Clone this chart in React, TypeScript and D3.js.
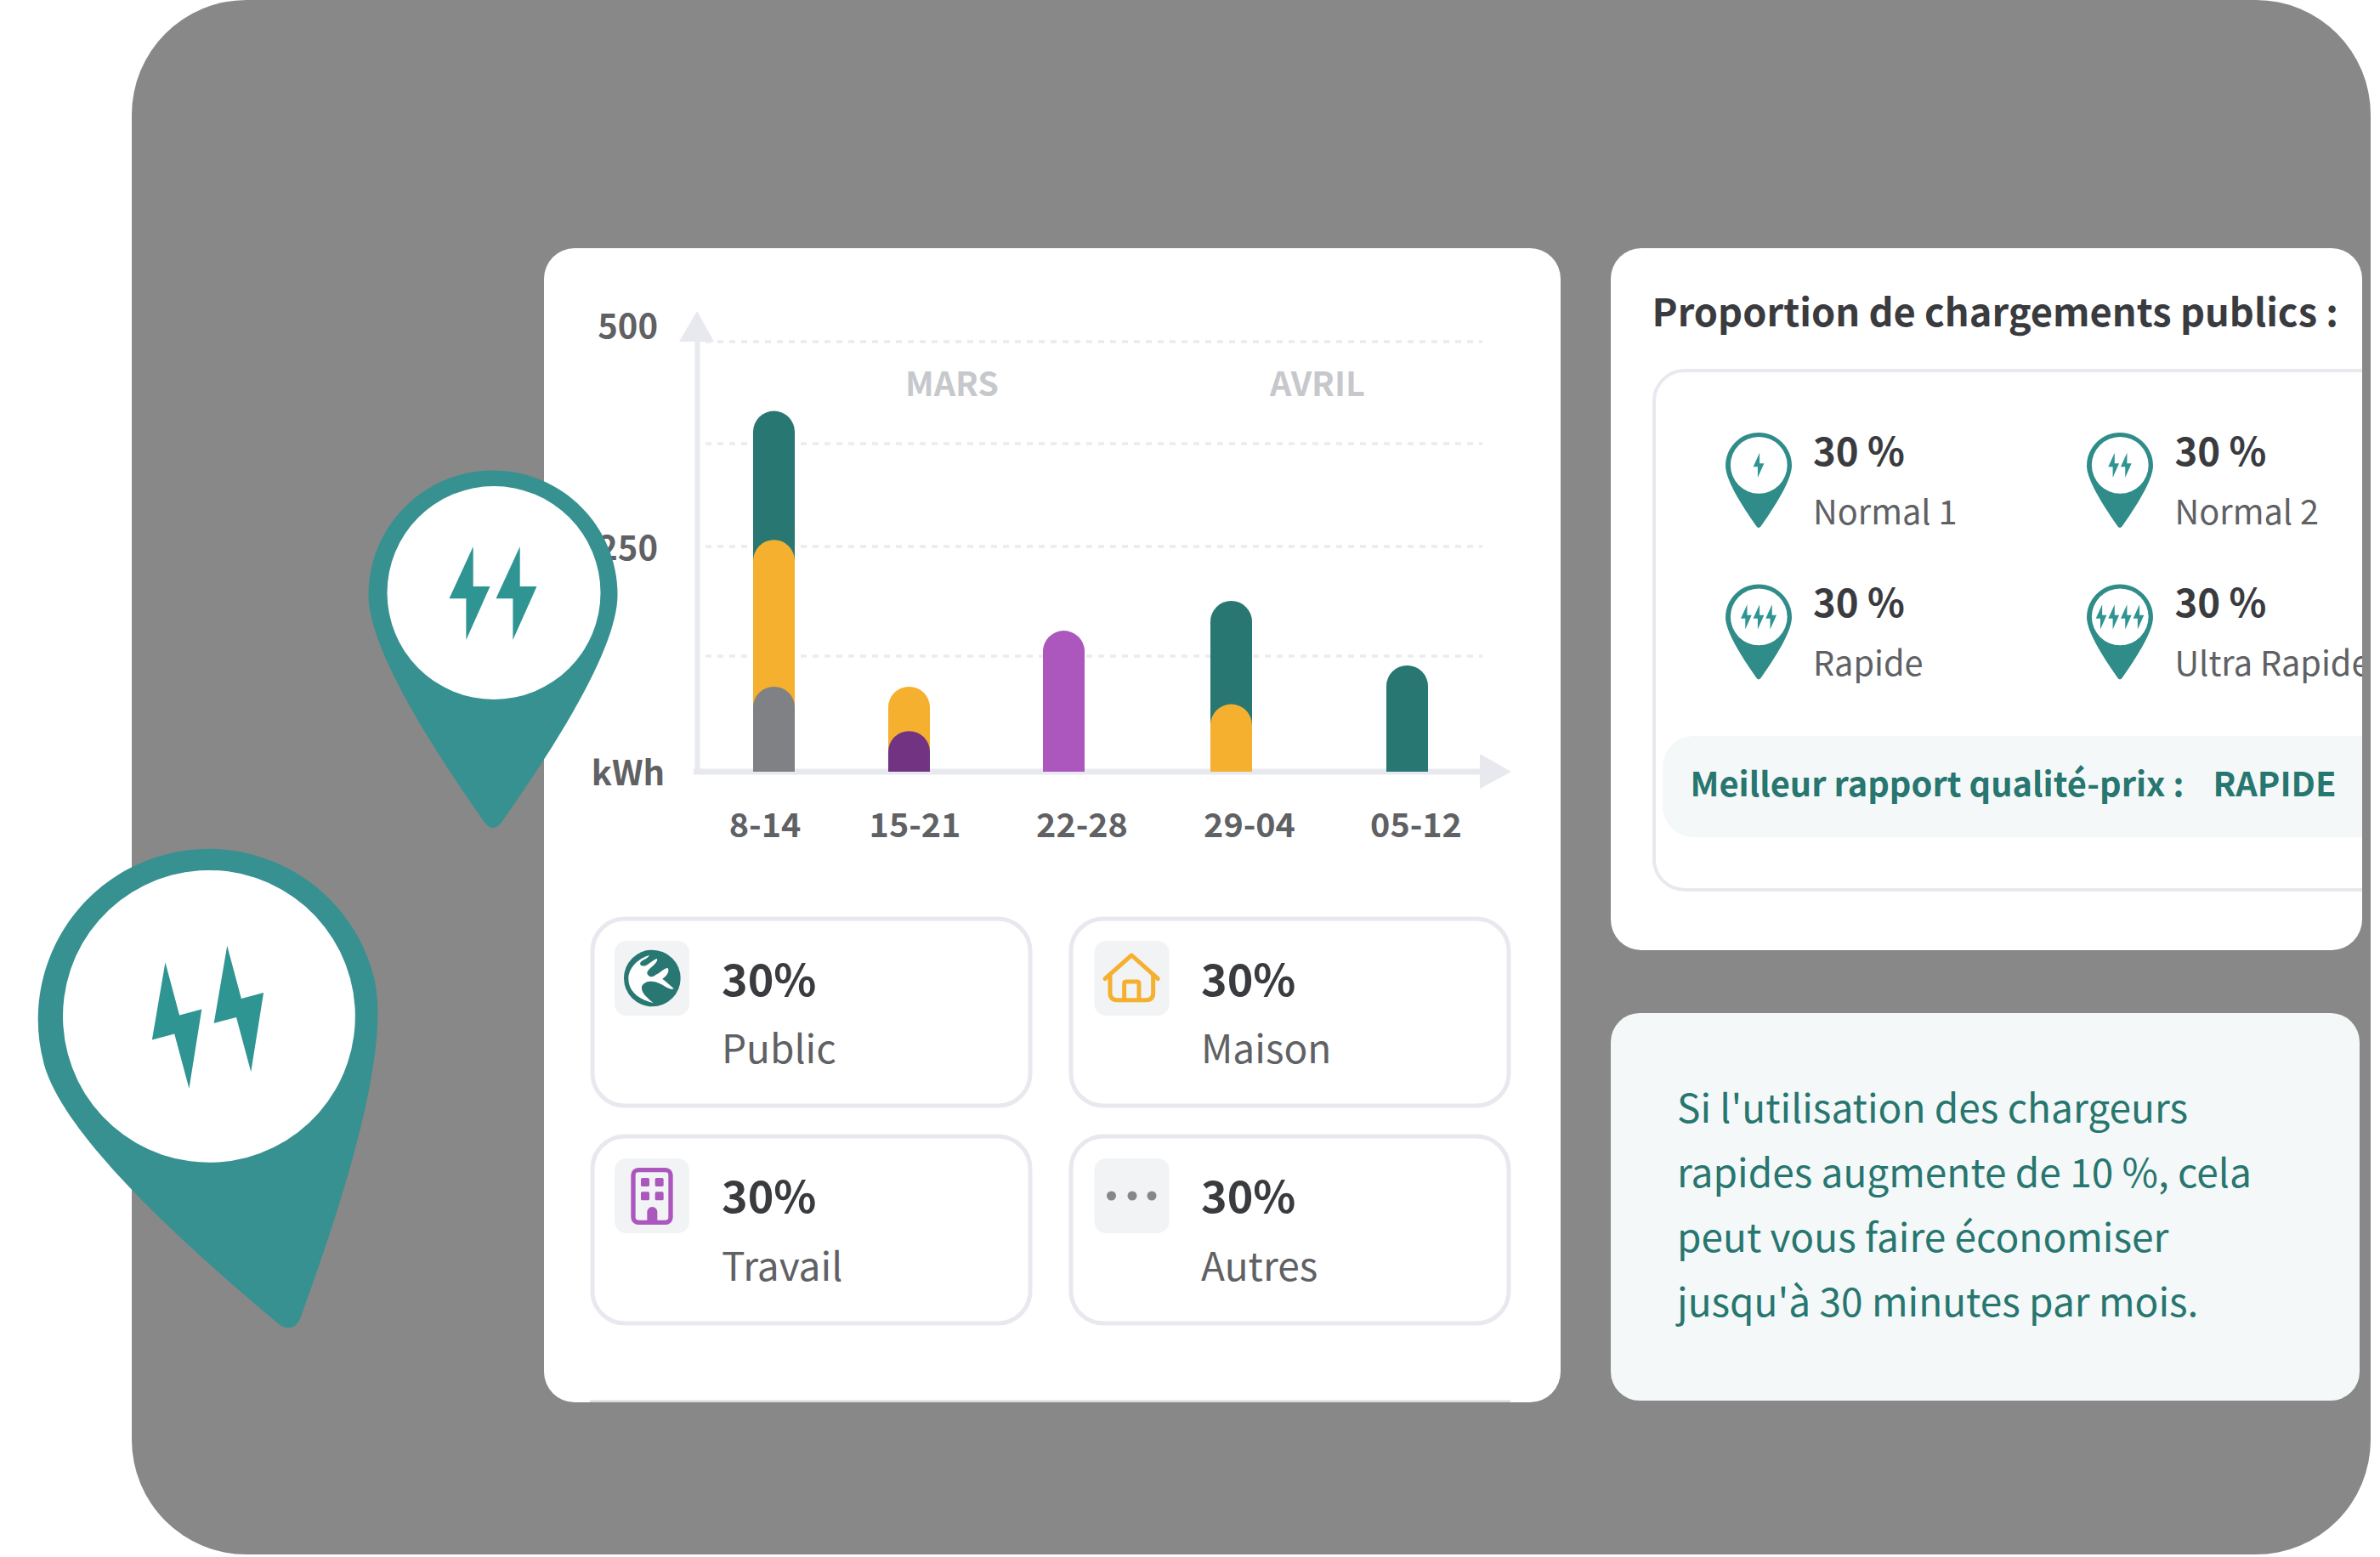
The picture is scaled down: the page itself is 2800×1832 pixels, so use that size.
import React from "react";
import * as d3 from "d3";

const weeks = ["8-14", "15-21", "22-28", "29-04", "05-12"];
const yTicks = [0, 125, 250, 375, 500];
const yLabels = ["500", "250"];
const months = ["MARS", "AVRIL"];
const teal = [415, 0, 0, 188, 115];
const yellow = [258, 92, 0, 73, 0];
const violet = [0, 0, 154, 0, 0];
const grey = [92, 0, 0, 0, 0];
const plum = [0, 44, 0, 0, 0];
const layers = [
  { values: teal, color: "#287773" },
  { values: violet, color: "#ab57be" },
  { values: yellow, color: "#f4b02e" },
  { values: grey, color: "#7f8184" },
  { values: plum, color: "#723382" },
];
const shareValue = "30%";
const shareNames = ["Public", "Maison", "Travail", "Autres"];
const speedValue = "30 %";
const speedNames = ["Normal 1", "Normal 2", "Rapide", "Ultra Rapide"];
const noteLines = [
  "Si l'utilisation des chargeurs",
  "rapides augmente de 10 %, cela",
  "peut vous faire économiser",
  "jusqu'à 30 minutes par mois.",
];

const FONT = "'Noto Sans CJK SC', 'Noto Sans', sans-serif";
const DARK = "#3a3b3f";
const MID = "#5f6164";
const GREEN = "#27766f";
const LINE = "#e7e9ef";

const y = d3.scaleLinear().domain(yTicks).range([908, 772, 643, 522, 402]);
const barX = d3.scaleOrdinal<string, number>().domain(weeks).range([886, 1045, 1227, 1424, 1631]);
const labelX = d3.scaleOrdinal<string, number>().domain(weeks).range([900, 1076.5, 1273, 1470, 1666]);
const BAR_W = 49;

function barPath(x: number, top: number) {
  const r = BAR_W / 2;
  const p = d3.path();
  p.moveTo(x, y(0));
  p.lineTo(x, top + r);
  p.arc(x + r, top + r, r, Math.PI, 0);
  p.lineTo(x + BAR_W, y(0));
  p.closePath();
  return p.toString();
}

const PIN =
  "M0 -146.5 C81 -146.5 146.5 -81 146.5 0 C146.5 50 100 140 9 269 Q0 279 -9 269 C-100 140 -146.5 50 -146.5 0 C-146.5 -81 -81 -146.5 0 -146.5 Z";
const BOLT = "M4.2 -55 L4.2 -8 L24 -8 L-4.1 55 L-4.1 6.3 L-24 6.3 Z";

function Pin({ x, yy, s, rot = 0, count, fill }: { x: number; yy: number; s: number; rot?: number; count: number; fill: string }) {
  const offs = d3.range(count).map((i) => (i - (count - 1) / 2) * 55);
  return (
    <g transform={`translate(${x} ${yy}) rotate(${rot}) scale(${s})`}>
      <path d={PIN} fill={fill} />
      <circle cx={1} cy={-2.5} r={125.5} fill="#fff" />
      {offs.map((o, i) => (
        <path key={i} d={BOLT} transform={`translate(${o} -2)`} fill="#2f9593" />
      ))}
    </g>
  );
}

function T(props: any) {
  const { bold, children, ...rest } = props;
  return (
    <text fontFamily={FONT} fontWeight={bold ? 700 : 400} {...rest}>
      {children}
    </text>
  );
}

function IconGlobe() {
  return (
    <g transform="translate(720 1100) scale(0.3333)">
      <circle cx={142} cy={153} r={100} fill="#287773" />
      <path
        fill="#fff"
        d="M132 72 C95 82 58 115 58 155 C58 195 90 228 146 240 C118 218 100 200 106 180 C115 162 145 160 165 170 C185 178 205 197 218 190 C203 175 190 165 178 155 C198 142 204 125 196 116 C180 120 170 135 155 140 C148 148 135 152 126 140 C118 130 135 118 152 102 C158 94 162 90 158 84 C145 88 135 100 120 108 C108 112 96 108 100 98 C105 88 125 86 132 72 Z"
      />
    </g>
  );
}

function IconHouse() {
  return (
    <g transform="translate(1290 1100) scale(0.3333)" fill="none" stroke="#f4b02e" strokeWidth={15} strokeLinecap="round" strokeLinejoin="round">
      <path d="M30 155 L124 72 L217 155" />
      <path d="M48 140 V205 Q48 230 72 230 H176 Q200 230 200 205 V140" />
      <path d="M98 230 V172 Q98 165 105 165 H143 Q150 165 150 172 V230" />
    </g>
  );
}

function IconBuilding() {
  const c = "#ab57be";
  return (
    <g transform="translate(720 1360) scale(0.3333)">
      <rect x={75} y={50} width={132} height={185} rx={18} fill="none" stroke={c} strokeWidth={16} />
      {[102, 152].map((wx) =>
        [78, 127].map((wy) => <rect key={`${wx}-${wy}`} x={wx} y={wy} width={30} height={30} rx={5} fill={c} />)
      )}
      <path d="M124 235 V198 A18 18 0 0 1 160 198 V235 Z" fill={c} />
    </g>
  );
}

function IconDots() {
  return (
    <g fill="#85878a">
      {[1307.5, 1332, 1355].map((cx) => (
        <circle key={cx} cx={cx} cy={1407} r={5.5} />
      ))}
    </g>
  );
}

const cardPos = [
  { x: 697, y: 1081, tx: 849, b1: 1171.5, b2: 1251, ix: 723, iy: 1107 },
  { x: 1260, y: 1081, tx: 1413, b1: 1171.5, b2: 1251, ix: 1287.5, iy: 1107 },
  { x: 697, y: 1337, tx: 849, b1: 1427, b2: 1507, ix: 723, iy: 1363 },
  { x: 1260, y: 1337, tx: 1413, b1: 1427, b2: 1507, ix: 1287.5, iy: 1363 },
];
const speedPos = [
  { px: 2069, py: 548, tx: 2133, b1: 548, b2: 617, n: 1 },
  { px: 2494, py: 548, tx: 2558.5, b1: 548, b2: 617, n: 2 },
  { px: 2069, py: 726.5, tx: 2133, b1: 726, b2: 794.5, n: 3 },
  { px: 2494, py: 726.5, tx: 2558.5, b1: 726, b2: 794.5, n: 4 },
];

export default function App() {
  return (
    <svg width={2800} height={1832} viewBox="0 0 2800 1832" style={{ position: "absolute", left: 0, top: 0, background: "#fff" }}>
      <defs>
        <clipPath id="rp">
          <rect x={1895} y={292} width={884} height={826} rx={36} />
        </clipPath>
      </defs>
      <rect x={155} y={0} width={2634} height={1829} rx={135} fill="#888888" />

      {/* chart panel */}
      <rect x={640} y={292} width={1196} height={1358} rx={36} fill="#fff" />
      <rect x={694} y={1647.5} width={1083} height={2.5} fill="#d9dbde" />

      {yTicks.slice(1).map((t) => (
        <line key={t} x1={830} x2={1744} y1={y(t)} y2={y(t)} stroke="#e9ebf0" strokeWidth={3.5} strokeDasharray="7 7" />
      ))}
      <line x1={820.5} x2={820.5} y1={400} y2={911} stroke={LINE} strokeWidth={6} />
      <path d="M820 366 L840 402 L799 402 Z" fill={LINE} />
      <line x1={816} x2={1750} y1={908} y2={908} stroke={LINE} strokeWidth={7} />
      <path d="M1741 887 L1778 908 L1741 928 Z" fill={LINE} />

      {layers.map((l, li) =>
        weeks.map((w, i) =>
          l.values[i] > 0 ? <path key={`${li}-${w}`} d={barPath(barX(w), y(l.values[i]))} fill={l.color} /> : null
        )
      )}

      <T bold x={774} y={398} fontSize={40} fill={MID} textAnchor="end">{yLabels[0]}</T>
      <T bold x={774} y={659} fontSize={40} fill={MID} textAnchor="end">{yLabels[1]}</T>
      <T bold x={739} y={924} fontSize={40} fill={MID} textAnchor="middle">kWh</T>
      <T bold x={1120} y={465.5} fontSize={39.5} fill="#c6c8cc" textAnchor="middle">{months[0]}</T>
      <T bold x={1550} y={465.5} fontSize={39.5} fill="#c6c8cc" textAnchor="middle">{months[1]}</T>
      {weeks.map((w) => (
        <T key={w} bold x={labelX(w)} y={985} fontSize={39.5} fill={MID} textAnchor="middle">{w}</T>
      ))}

      {cardPos.map((c, i) => (
        <g key={i}>
          <rect x={c.x} y={c.y} width={515} height={220} rx={38} fill="#fff" stroke={LINE} strokeWidth={5} />
          <rect x={c.ix} y={c.iy} width={88} height={88} rx={14} fill="#f2f3f5" />
          <T bold x={c.tx} y={c.b1} fontSize={52} fill={DARK}>{shareValue}</T>
          <T x={c.tx} y={c.b2} fontSize={46} fill={MID}>{shareNames[i]}</T>
        </g>
      ))}
      <IconGlobe />
      <IconHouse />
      <IconBuilding />
      <IconDots />

      {/* proportion panel */}
      <rect x={1895} y={292} width={884} height={826} rx={36} fill="#fff" />
      <T bold x={1943.5} y={384} fontSize={45.2} fill={DARK}>Proportion de chargements publics :</T>
      <g clipPath="url(#rp)">
        <rect x={1946} y={436} width={1000} height={611} rx={36} fill="#fff" stroke={LINE} strokeWidth={4} />
        <rect x={1956} y={866} width={1000} height={119} rx={36} fill="#f4f8f9" />
        {speedPos.map((s, i) => (
          <g key={i}>
            <Pin x={s.px} yy={s.py} s={0.266} count={s.n} fill="#2f8c88" />
            <T bold x={s.tx} y={s.b1} fontSize={45.5} fill={DARK}>{speedValue}</T>
            <T x={s.tx} y={s.b2} fontSize={39.7} fill={MID}>{speedNames[i]}</T>
          </g>
        ))}
      </g>
      <T bold x={1988.5} y={937} fontSize={39.8} fill={GREEN}>Meilleur rapport qualité-prix :</T>
      <T bold x={2603.5} y={937} fontSize={39.8} fill={GREEN}>RAPIDE</T>

      {/* note panel */}
      <rect x={1895} y={1192} width={881} height={456} rx={34} fill="#f4f8f9" />
      {noteLines.map((l, i) => (
        <T key={i} x={1973} y={1321 + i * 76} fontSize={46} fill={GREEN}>{l}</T>
      ))}

      {/* large decorative pins */}
      <Pin x={580} yy={700} s={1} count={2} fill="#379191" />
      <Pin x={245.5} yy={1199.5} s={1.37} rot={-15} count={2} fill="#379191" />
    </svg>
  );
}
